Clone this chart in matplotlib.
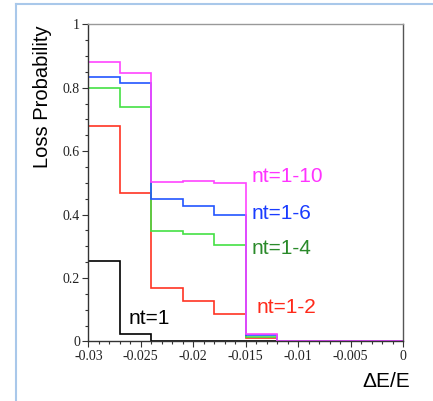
import numpy as np
import matplotlib
matplotlib.use("Agg")
import matplotlib.pyplot as plt
from matplotlib.lines import Line2D
from matplotlib.ticker import MultipleLocator, FuncFormatter

# bin edges of the delta E / E histogram
edges = [-0.030, -0.027, -0.024, -0.021, -0.018, -0.015, -0.012, 0.0]

# loss probability per bin, one list per nt range
p_nt1 = [0.253, 0.025, 0.0, 0.0, 0.0, 0.0, 0.0]
p_nt12 = [0.679, 0.467, 0.168, 0.129, 0.087, 0.010, 0.0]
p_nt14 = [0.798, 0.738, 0.349, 0.338, 0.304, 0.015, 0.0]
p_nt16 = [0.835, 0.814, 0.450, 0.428, 0.400, 0.020, 0.0]
p_nt110 = [0.880, 0.847, 0.502, 0.506, 0.499, 0.024, 0.0]

plt.rcParams['axes.unicode_minus'] = False

fig = plt.figure(figsize=(4.33, 4.01), dpi=100)
ax = fig.add_axes([0.204, 0.1484, 0.7267, 0.791])

ax.stairs(p_nt1, edges, color="black", lw=1.2)
ax.stairs(p_nt12, edges, color="#ff3322", lw=1.2)
ax.stairs(p_nt14, edges, color="#44e044", lw=1.2)
ax.stairs(p_nt16, edges, color="#2255ff", lw=1.2)
ax.stairs(p_nt110, edges, color="#ff44ff", lw=1.2)

ax.set_xlim(-0.03, 0)
ax.set_ylim(0, 1)
ax.xaxis.set_major_locator(MultipleLocator(0.005))
ax.xaxis.set_minor_locator(MultipleLocator(0.001))
ax.yaxis.set_major_locator(MultipleLocator(0.2))
ax.yaxis.set_minor_locator(MultipleLocator(0.05))
fmt = FuncFormatter(lambda v, pos: "%g" % round(v, 4))
ax.xaxis.set_major_formatter(fmt)
ax.yaxis.set_major_formatter(fmt)
ax.tick_params(which="major", length=4, width=0.8, color="#333333", pad=2)
ax.tick_params(which="minor", length=2.5, width=0.8, color="#333333")
for lab in ax.get_xticklabels() + ax.get_yticklabels():
    lab.set_family("Liberation Serif")
    lab.set_fontsize(10)
    lab.set_color("#222222")

ax.spines["top"].set_color("#999999")
ax.spines["right"].set_color("#555555")
ax.spines["left"].set_color("#333333")
ax.spines["bottom"].set_color("#333333")
for s in ax.spines.values():
    s.set_linewidth(1.0)

sans = "Liberation Sans"
fig.text(0.099, 0.758, "Loss Probability", rotation=90, ha="center", va="center",
         family=sans, fontsize=14.5)
fig.text(0.891, 0.048, "\u0394E/E", ha="center", va="center", family=sans, fontsize=15)

ax.text(-0.01442, 0.52, "nt=1-10", color="#ff33ff", family=sans, fontsize=15, va="center")
ax.text(-0.01442, 0.404, "nt=1-6", color="#1a3cff", family=sans, fontsize=15, va="center")
ax.text(-0.01442, 0.294, "nt=1-4", color="#2a8a2a", family=sans, fontsize=15, va="center")
ax.text(-0.0140, 0.107, "nt=1-2", color="#ff2a1a", family=sans, fontsize=15, va="center")
ax.text(-0.0262, 0.073, "nt=1", color="black", family=sans, fontsize=15, va="center")

# light blue frame of the original slide (left and top edges)
fig.add_artist(Line2D([0.037, 0.037], [0.0, 0.99], transform=fig.transFigure,
                      color="#a9c8ea", lw=1.5))
fig.add_artist(Line2D([0.037, 1.0], [0.99, 0.99], transform=fig.transFigure,
                      color="#a9c8ea", lw=1.5))

fig.savefig("out.png", dpi=100)
